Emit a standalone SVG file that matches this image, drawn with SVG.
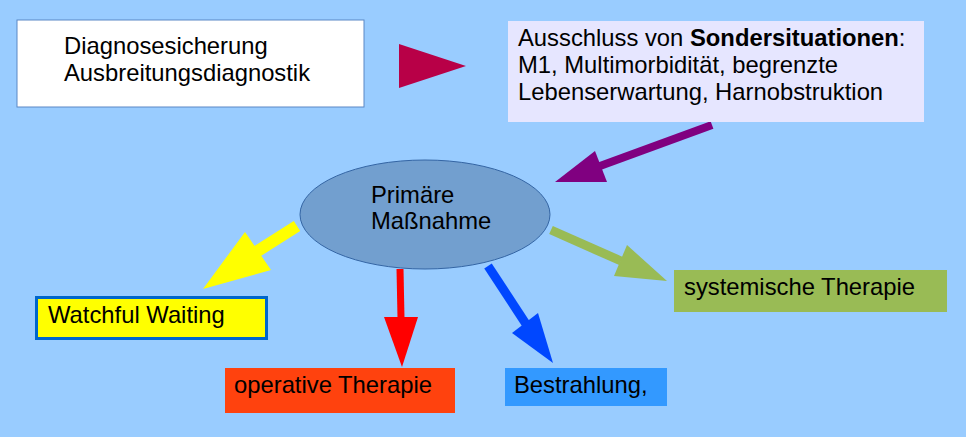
<svg xmlns="http://www.w3.org/2000/svg" width="966" height="437" viewBox="0 0 966 437">
<style>
text{font-family:"Liberation Sans",Arial,sans-serif;font-size:23.8px;fill:#000}
.b{font-weight:bold}
</style>
<rect x="0" y="0" width="966" height="437" fill="#99ccff"/>
<g id="connectors">
<polygon points="399,44 399,88 466,66" fill="#b80047"/>
<line x1="712" y1="125" x2="600" y2="166" stroke="#800080" stroke-width="8"/>
<polygon points="595,151 607,182 555,182" fill="#800080"/>
<line x1="297" y1="226" x2="256" y2="252" stroke="#ffff00" stroke-width="12"/>
<polygon points="245,232 271,270 203,289" fill="#ffff00"/>
<line x1="400" y1="269" x2="401" y2="318" stroke="#ff0000" stroke-width="7"/>
<polygon points="384,317 418,317 402,367" fill="#ff0000"/>
<line x1="488" y1="266" x2="526" y2="324" stroke="#0047ff" stroke-width="9"/>
<polygon points="512,333 538,313 553,363" fill="#0047ff"/>
<line x1="551" y1="230" x2="621" y2="261" stroke="#99bb55" stroke-width="9"/>
<polygon points="627,245 614,276 667,281" fill="#99bb55"/>
</g>
<g id="diagnose">
<rect x="17" y="20" width="347" height="87" fill="#ffffff" stroke="#5b87c5" stroke-width="1"/>
<text x="64" y="54">Diagnosesicherung</text>
<text x="64" y="81">Ausbreitungsdiagnostik</text>
</g>
<g id="ausschluss">
<rect x="508" y="21" width="416" height="101" fill="#e6e6ff"/>
<text x="518" y="46">Ausschluss von <tspan class="b">Sondersituationen</tspan>:</text>
<text x="518" y="73">M1, Multimorbidität, begrenzte</text>
<text x="518" y="100">Lebenserwartung, Harnobstruktion</text>
</g>
<g id="primaere">
<ellipse cx="425" cy="214.5" rx="125" ry="54.5" fill="#729fcf" stroke="#3465a4" stroke-width="1"/>
<text x="371" y="203">Primäre</text>
<text x="371" y="229">Maßnahme</text>
</g>
<g id="watchful">
<rect x="36.5" y="297.5" width="230" height="41" fill="#ffff00" stroke="#0066cc" stroke-width="3"/>
<text x="48" y="323">Watchful Waiting</text>
</g>
<g id="operativ">
<rect x="225" y="368" width="230" height="45" fill="#ff420e"/>
<text x="234" y="393">operative Therapie</text>
</g>
<g id="bestrahlung">
<rect x="505" y="368" width="162" height="38" fill="#3399ff"/>
<text x="514" y="393">Bestrahlung,</text>
</g>
<g id="systemisch">
<rect x="674" y="270" width="273" height="42" fill="#99bb55"/>
<text x="684" y="295">systemische Therapie</text>
</g>
</svg>
